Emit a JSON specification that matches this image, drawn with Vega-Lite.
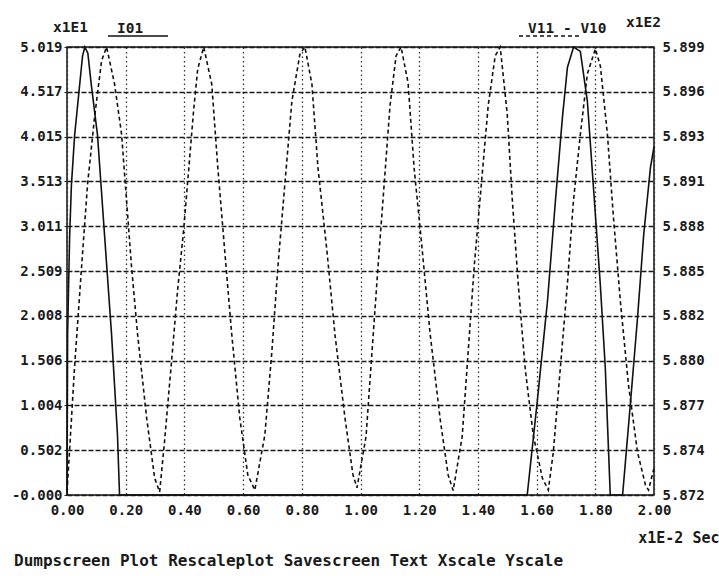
{
  "$schema": "https://vega.github.io/schema/vega-lite/v6.json",
  "width": 587,
  "height": 448,
  "autosize": {"type": "none"},
  "padding": {"left": 67, "top": 47, "right": 65, "bottom": 81},
  "background": "white",
  "config": {
    "view": {"stroke": "#111", "strokeWidth": 1.5},
    "font": "DejaVu Sans Mono",
    "axis": {
      "labelFont": "DejaVu Sans Mono",
      "labelFontSize": 14,
      "labelFontWeight": "bold",
      "labelColor": "#1a1a1a",
      "titleFont": "DejaVu Sans Mono",
      "titleFontSize": 14.5,
      "titleFontWeight": "bold",
      "titleColor": "#1a1a1a",
      "domain": false
    }
  },
  "title": {
    "text": "Dumpscreen Plot Rescaleplot Savescreen Text Xscale Yscale",
    "orient": "bottom",
    "anchor": "start",
    "frame": "group",
    "font": "DejaVu Sans Mono",
    "fontSize": 16,
    "fontWeight": "bold",
    "color": "#1a1a1a",
    "dx": -53,
    "offset": 8
  },
  "data": {
    "values": [
      {"s": "I01", "t": 0, "v": 0},
      {"s": "I01", "t": 0.002, "v": 1.8},
      {"s": "I01", "t": 0.009, "v": 2.9},
      {"s": "I01", "t": 0.015, "v": 3.47},
      {"s": "I01", "t": 0.026, "v": 4.03},
      {"s": "I01", "t": 0.043, "v": 4.59},
      {"s": "I01", "t": 0.053, "v": 4.92},
      {"s": "I01", "t": 0.061, "v": 5.019},
      {"s": "I01", "t": 0.071, "v": 4.95},
      {"s": "I01", "t": 0.083, "v": 4.59},
      {"s": "I01", "t": 0.104, "v": 4.03},
      {"s": "I01", "t": 0.128, "v": 2.91},
      {"s": "I01", "t": 0.152, "v": 1.79},
      {"s": "I01", "t": 0.172, "v": 0.67},
      {"s": "I01", "t": 0.179, "v": 0},
      {"s": "I01", "t": 1.568, "v": 0},
      {"s": "I01", "t": 1.602, "v": 1.04},
      {"s": "I01", "t": 1.637, "v": 2.17},
      {"s": "I01", "t": 1.664, "v": 3.29},
      {"s": "I01", "t": 1.688, "v": 4.23},
      {"s": "I01", "t": 1.705, "v": 4.79},
      {"s": "I01", "t": 1.726, "v": 5.019},
      {"s": "I01", "t": 1.749, "v": 4.97},
      {"s": "I01", "t": 1.773, "v": 4.41},
      {"s": "I01", "t": 1.793, "v": 3.48},
      {"s": "I01", "t": 1.817, "v": 2.36},
      {"s": "I01", "t": 1.834, "v": 1.43},
      {"s": "I01", "t": 1.851, "v": 0},
      {"s": "I01", "t": 1.893, "v": 0},
      {"s": "I01", "t": 1.92, "v": 1.04},
      {"s": "I01", "t": 1.944, "v": 1.99},
      {"s": "I01", "t": 1.965, "v": 2.92},
      {"s": "I01", "t": 1.988, "v": 3.67},
      {"s": "I01", "t": 2.0, "v": 3.9},

      {"s": "V11 - V10", "t": 0, "v": 5.8722},
      {"s": "V11 - V10", "t": 0.0085, "v": 5.87462},
      {"s": "V11 - V10", "t": 0.0256, "v": 5.87973},
      {"s": "V11 - V10", "t": 0.0495, "v": 5.88581},
      {"s": "V11 - V10", "t": 0.070, "v": 5.89086},
      {"s": "V11 - V10", "t": 0.0939, "v": 5.89494},
      {"s": "V11 - V10", "t": 0.1177, "v": 5.89835},
      {"s": "V11 - V10", "t": 0.1348, "v": 5.8992},
      {"s": "V11 - V10", "t": 0.1621, "v": 5.89695},
      {"s": "V11 - V10", "t": 0.186, "v": 5.8939},
      {"s": "V11 - V10", "t": 0.2031, "v": 5.88983},
      {"s": "V11 - V10", "t": 0.2201, "v": 5.88581},
      {"s": "V11 - V10", "t": 0.2406, "v": 5.88174},
      {"s": "V11 - V10", "t": 0.2713, "v": 5.87669},
      {"s": "V11 - V10", "t": 0.2986, "v": 5.87303},
      {"s": "V11 - V10", "t": 0.3157, "v": 5.87218},
      {"s": "V11 - V10", "t": 0.3328, "v": 5.87535},
      {"s": "V11 - V10", "t": 0.3567, "v": 5.88021},
      {"s": "V11 - V10", "t": 0.3771, "v": 5.88448},
      {"s": "V11 - V10", "t": 0.3976, "v": 5.88813},
      {"s": "V11 - V10", "t": 0.4147, "v": 5.89177},
      {"s": "V11 - V10", "t": 0.4317, "v": 5.89542},
      {"s": "V11 - V10", "t": 0.4454, "v": 5.89787},
      {"s": "V11 - V10", "t": 0.4659, "v": 5.8992},
      {"s": "V11 - V10", "t": 0.4932, "v": 5.89694},
      {"s": "V11 - V10", "t": 0.5137, "v": 5.89191},
      {"s": "V11 - V10", "t": 0.5375, "v": 5.8868},
      {"s": "V11 - V10", "t": 0.5614, "v": 5.88174},
      {"s": "V11 - V10", "t": 0.5887, "v": 5.87668},
      {"s": "V11 - V10", "t": 0.616, "v": 5.87322},
      {"s": "V11 - V10", "t": 0.6399, "v": 5.8723},
      {"s": "V11 - V10", "t": 0.6741, "v": 5.87564},
      {"s": "V11 - V10", "t": 0.698, "v": 5.8807},
      {"s": "V11 - V10", "t": 0.7184, "v": 5.88582},
      {"s": "V11 - V10", "t": 0.7423, "v": 5.89088},
      {"s": "V11 - V10", "t": 0.7662, "v": 5.89591},
      {"s": "V11 - V10", "t": 0.7935, "v": 5.89876},
      {"s": "V11 - V10", "t": 0.8106, "v": 5.8992},
      {"s": "V11 - V10", "t": 0.8345, "v": 5.89694},
      {"s": "V11 - V10", "t": 0.8549, "v": 5.89191},
      {"s": "V11 - V10", "t": 0.8857, "v": 5.8868},
      {"s": "V11 - V10", "t": 0.913, "v": 5.88174},
      {"s": "V11 - V10", "t": 0.9471, "v": 5.87668},
      {"s": "V11 - V10", "t": 0.9744, "v": 5.87322},
      {"s": "V11 - V10", "t": 0.9881, "v": 5.87244},
      {"s": "V11 - V10", "t": 1.0188, "v": 5.87554},
      {"s": "V11 - V10", "t": 1.0392, "v": 5.8807},
      {"s": "V11 - V10", "t": 1.0597, "v": 5.88587},
      {"s": "V11 - V10", "t": 1.0802, "v": 5.89077},
      {"s": "V11 - V10", "t": 1.1007, "v": 5.89566},
      {"s": "V11 - V10", "t": 1.1212, "v": 5.89866},
      {"s": "V11 - V10", "t": 1.1382, "v": 5.8992},
      {"s": "V11 - V10", "t": 1.1621, "v": 5.89702},
      {"s": "V11 - V10", "t": 1.1826, "v": 5.89186},
      {"s": "V11 - V10", "t": 1.2099, "v": 5.88696},
      {"s": "V11 - V10", "t": 1.2372, "v": 5.88179},
      {"s": "V11 - V10", "t": 1.2713, "v": 5.87662},
      {"s": "V11 - V10", "t": 1.2986, "v": 5.87322},
      {"s": "V11 - V10", "t": 1.3157, "v": 5.87227},
      {"s": "V11 - V10", "t": 1.3464, "v": 5.87554},
      {"s": "V11 - V10", "t": 1.3669, "v": 5.8807},
      {"s": "V11 - V10", "t": 1.3874, "v": 5.88587},
      {"s": "V11 - V10", "t": 1.4113, "v": 5.89077},
      {"s": "V11 - V10", "t": 1.4352, "v": 5.89566},
      {"s": "V11 - V10", "t": 1.459, "v": 5.89866},
      {"s": "V11 - V10", "t": 1.4761, "v": 5.8992},
      {"s": "V11 - V10", "t": 1.5, "v": 5.89512},
      {"s": "V11 - V10", "t": 1.5171, "v": 5.88995},
      {"s": "V11 - V10", "t": 1.5375, "v": 5.88478},
      {"s": "V11 - V10", "t": 1.5614, "v": 5.87962},
      {"s": "V11 - V10", "t": 1.5887, "v": 5.87564},
      {"s": "V11 - V10", "t": 1.6195, "v": 5.87303},
      {"s": "V11 - V10", "t": 1.6399, "v": 5.8723},
      {"s": "V11 - V10", "t": 1.657, "v": 5.87461},
      {"s": "V11 - V10", "t": 1.6809, "v": 5.87972},
      {"s": "V11 - V10", "t": 1.7048, "v": 5.88478},
      {"s": "V11 - V10", "t": 1.7253, "v": 5.88982},
      {"s": "V11 - V10", "t": 1.7491, "v": 5.8939},
      {"s": "V11 - V10", "t": 1.773, "v": 5.89757},
      {"s": "V11 - V10", "t": 1.8003, "v": 5.89909},
      {"s": "V11 - V10", "t": 1.8174, "v": 5.89803},
      {"s": "V11 - V10", "t": 1.8413, "v": 5.8939},
      {"s": "V11 - V10", "t": 1.8618, "v": 5.88886},
      {"s": "V11 - V10", "t": 1.8857, "v": 5.8837},
      {"s": "V11 - V10", "t": 1.913, "v": 5.87869},
      {"s": "V11 - V10", "t": 1.9437, "v": 5.87461},
      {"s": "V11 - V10", "t": 1.971, "v": 5.8726},
      {"s": "V11 - V10", "t": 1.9812, "v": 5.8723},
      {"s": "V11 - V10", "t": 2.0, "v": 5.87363}
    ]
  },
  "layer": [
    {
      "transform": [{"filter": "datum.s == 'I01'"}],
      "mark": {"type": "line", "color": "#111", "strokeWidth": 1.6},
      "encoding": {
        "x": {
          "field": "t", "type": "quantitative",
          "scale": {"domain": [0, 2], "nice": false, "zero": false},
          "axis": {
            "values": [0, 0.2, 0.4, 0.6, 0.8, 1.0, 1.2, 1.4, 1.6, 1.8, 2.0],
            "format": ".2f",
            "title": "x1E-2 Sec",
            "titleAngle": 0, "titleAlign": "right", "titleAnchor": null,
            "titleX": 652, "titleY": 42, "titleBaseline": "middle", "titleFontSize": 15,
            "labelPadding": 8, "ticks": false, "labelFlush": false,
            "grid": true, "gridColor": "#333", "gridDash": [1.5, 3], "gridWidth": 1.3, "gridOpacity": 1
          }
        },
        "y": {
          "field": "v", "type": "quantitative",
          "scale": {"domain": [0, 5.019], "nice": false, "zero": false},
          "axis": {
            "orient": "left",
            "values": [0, 0.5019, 1.0038, 1.5057, 2.0076, 2.5095, 3.0114, 3.5133, 4.0152, 4.5171, 5.019],
            "labelExpr": "['-0.000','0.502','1.004','1.506','2.008','2.509','3.011','3.513','4.015','4.517','5.019'][round(datum.value/0.5019)]",
            "title": "x1E1",
            "titleAngle": 0, "titleAlign": "center", "titleBaseline": "middle",
            "titleX": 3, "titleY": -20,
            "ticks": true, "tickSize": 3, "tickColor": "#222",
            "labelPadding": 2, "labelFlush": false,
            "grid": true, "gridColor": "#1a1a1a", "gridDash": [5, 2], "gridWidth": 1.3, "gridOpacity": 1
          }
        },
        "strokeDash": {
          "field": "s", "type": "nominal",
          "scale": {"domain": ["I01", "V11 - V10"], "range": [[1, 0], [4, 3]]},
          "legend": {
            "orient": "none", "legendX": 40, "legendY": -42,
            "direction": "horizontal", "title": null,
            "symbolType": "stroke", "symbolSize": 3600, "symbolStrokeWidth": 1.5,
            "symbolStrokeColor": "#111",
            "labelFont": "DejaVu Sans Mono", "labelFontSize": 14.5, "labelFontWeight": "bold",
            "labelColor": "#1a1a1a", "labelBaseline": "bottom", "labelOffset": -52,
            "columnPadding": 345, "padding": 0
          }
        }
      }
    },
    {
      "transform": [{"filter": "datum.s == 'V11 - V10'"}],
      "mark": {"type": "line", "color": "#111", "strokeWidth": 1.6},
      "encoding": {
        "x": {
          "field": "t", "type": "quantitative",
          "scale": {"domain": [0, 2], "nice": false, "zero": false}
        },
        "y": {
          "field": "v", "type": "quantitative",
          "scale": {"domain": [5.872, 5.8992], "nice": false, "zero": false},
          "axis": {
            "orient": "right",
            "values": [5.872, 5.87472, 5.87744, 5.88016, 5.88288, 5.8856, 5.88832, 5.89104, 5.89376, 5.89648, 5.8992],
            "labelExpr": "['5.872','5.874','5.877','5.880','5.882','5.885','5.888','5.891','5.893','5.896','5.899'][round((datum.value-5.872)/0.00272)]",
            "title": "x1E2",
            "titleAngle": 0, "titleAlign": "center", "titleBaseline": "middle",
            "titleX": -11, "titleY": -25,
            "ticks": false, "labelPadding": 8, "labelFlush": false,
            "grid": false
          }
        },
        "strokeDash": {"field": "s", "type": "nominal"}
      }
    }
  ],
  "resolve": {"scale": {"y": "independent"}}
}
